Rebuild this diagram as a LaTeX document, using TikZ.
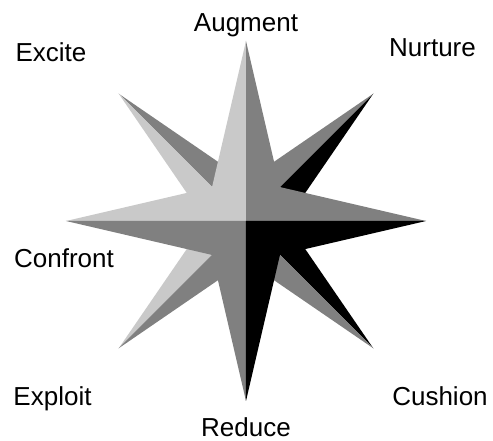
\documentclass[tikz,border=0pt]{standalone}
\usepackage{fontspec}
\setmainfont{Liberation Sans}
\usetikzlibrary{positioning}
\definecolor{lightshade}{gray}{0.79}
\definecolor{midshade}{gray}{0.5}

\begin{document}
\begin{tikzpicture}[
    x=1pt, y=1pt,
    word/.style={font=\fontsize{26}{31}\selectfont, anchor=base, inner sep=0pt},
    facet/.style={draw=none}
]
    \useasboundingbox (-246,-220) rectangle (247,221);
    \coordinate (c) at (0,0);

    % diagonal star, behind
    \foreach \d/\col in {0/black, 90/midshade, 180/lightshade, 270/midshade}
        \fill[facet, \col] (c) -- (\d-45:180) -- (\d:40) -- (\d+45:180) -- cycle;

    % main star in front
    \foreach \q/\col in {45/midshade, 135/lightshade, 225/midshade, 315/black}
        \fill[facet, \col] (c) -- (\q-45:180) -- (\q:48) -- (\q+45:180) -- cycle;

    \node[word] (augment) at (0,189.3) {Augment};
    \node[word] (nurture) at (186.5,164) {Nurture};
    \node[word] (excite) at (-195,159) {Excite};
    \node[word] (confront) at (-182,-47) {Confront};
    \node[word] (exploit) at (-193.5,-185) {Exploit};
    \node[word] (cushion) at (194,-185) {Cushion};
    \node[word] (reduce) at (0,-216) {Reduce};
\end{tikzpicture}
\end{document}
